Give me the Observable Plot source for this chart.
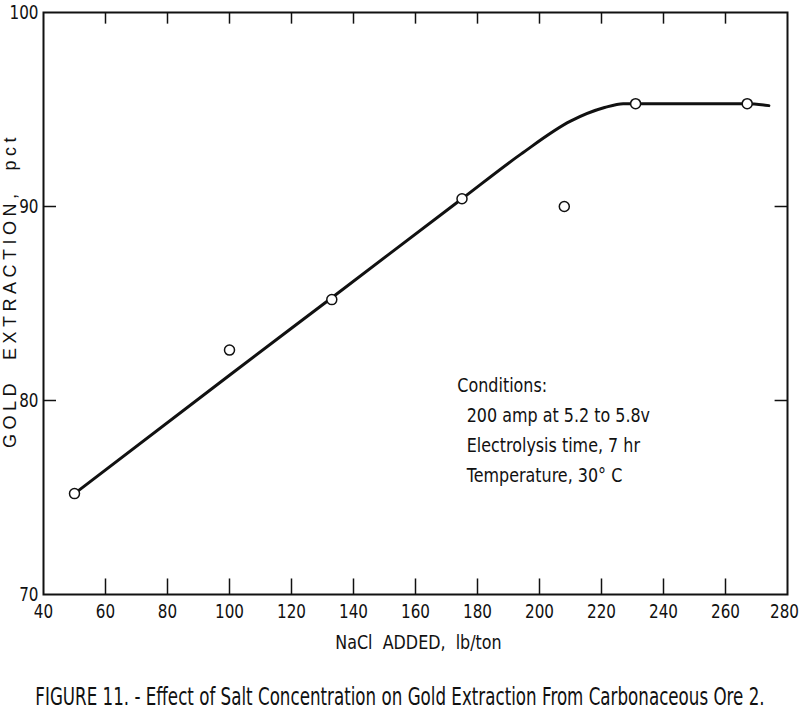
<!DOCTYPE html>
<html><head><meta charset="utf-8">
<script src="https://cdn.jsdelivr.net/npm/d3@7"></script>
<script src="https://cdn.jsdelivr.net/npm/@observablehq/plot@0.6"></script>
<style>
body{margin:0;background:#fff;}
#chart svg{display:block;}
#caption{display:block;}
</style></head><body>
<div id="chart"></div>
<svg id="caption" width="800" height="49" xmlns="http://www.w3.org/2000/svg"></svg>
<script>
const naclAdded = [50, 100, 133, 175, 208, 231, 267];
const goldExtraction = [75.2, 82.6, 85.2, 90.4, 90.0, 95.3, 95.3];
const curveX = [50, 100, 133, 175, 194, 210, 221, 227, 231, 267, 274];
const curveY = [75.2, 81.3, 85.3, 90.4, 92.7, 94.4, 95.1, 95.3, 95.3, 95.3, 95.2];
const xTicks = [40, 60, 80, 100, 120, 140, 160, 180, 200, 220, 240, 260, 280];
const yTicks = [70, 80, 90, 100];
const innerXTicks = [60, 80, 100, 120, 140, 160, 180, 200, 220, 240, 260];
const innerYTicks = [80, 90];
const conditionsTitle = "Conditions:";
const conditionsLines = ["200 amp at 5.2 to 5.8v", "Electrolysis time, 7 hr", "Temperature, 30° C"];
const xLabel = "NaCl  ADDED,  lb/ton";
const yLabel = "GOLD  EXTRACTION,  pct";
const captionText = "FIGURE 11. - Effect of Salt Concentration on Gold Extraction From Carbonaceous Ore 2.";

const points = naclAdded.map((x, i) => ({x, y: goldExtraction[i]}));
const curve = curveX.map((x, i) => ({x, y: curveY[i]}));
const font = "'DejaVu Sans',sans-serif";

const chart = Plot.plot({
  width: 800,
  height: 665,
  marginLeft: 43,
  marginRight: 13,
  marginTop: 12,
  marginBottom: 71,
  style: {fontFamily: font, color: "#111", background: "#fff"},
  x: {domain: [40, 280]},
  y: {domain: [70, 100]},
  marks: [
    Plot.frame({stroke: "#111", strokeWidth: 2}),
    Plot.axisX({ticks: xTicks, tickSize: 0, tickPadding: 9, fontSize: 20, label: null, tickFormat: d => String(d)}),
    Plot.axisY({ticks: yTicks, tickSize: 0, tickPadding: 5, fontSize: 20, label: null, tickFormat: d => String(d)}),
    Plot.ruleX(innerXTicks, {x: d => d, y1: 70, y2: 70.8, stroke: "#111", strokeWidth: 1.5}),
    Plot.ruleX(innerXTicks, {x: d => d, y1: 100, y2: 99.4, stroke: "#111", strokeWidth: 1.5}),
    Plot.ruleY(innerYTicks, {y: d => d, x1: 40, x2: 44.2, stroke: "#111", strokeWidth: 1.5}),
    Plot.ruleY(innerYTicks, {y: d => d, x1: 280, x2: 276, stroke: "#111", strokeWidth: 1.5}),
    Plot.line(curve, {x: "x", y: "y", curve: "monotone-x", stroke: "#111", strokeWidth: 3}),
    Plot.dot(points, {x: "x", y: "y", r: 5, fill: "#fff", stroke: "#111", strokeWidth: 1.5}),
    Plot.text([conditionsTitle], {x: 173.5, y: 80.75, text: d => d, textAnchor: "start", fontSize: 19, fill: "#111"}),
    Plot.text(conditionsLines, {x: 176.5, y: (d, i) => 79.2 - i * 1.55, text: d => d, textAnchor: "start", fontSize: 19, fill: "#111"}),
    Plot.text([xLabel], {frameAnchor: "bottom", dy: 48, dx: 3, lineAnchor: "middle", text: d => d, fontSize: 19, fill: "#111"}),
    Plot.text([yLabel], {frameAnchor: "left", rotate: -90, dx: -33, dy: -13, textAnchor: "middle", text: d => d, fontSize: 18, fill: "#111", fontFamily: "'Liberation Sans',Arial,sans-serif"})
  ]
});
document.getElementById("chart").appendChild(chart);

// narrow the lettering like the original stencil style
d3.select(chart).selectAll("text").each(function() {
  const t = this.textContent;
  if (t.startsWith("GOLD")) {
    d3.select(this).style("letter-spacing", "4.5px").style("white-space", "pre");
    return;
  }
  if (t.startsWith("NaCl")) d3.select(this).style("white-space", "pre");
  const k = /^\d+$/.test(t) ? 0.76 : 0.84;
  const shift = t === "280" ? " translate(-3,0)" : "";
  const tr = this.getAttribute("transform");
  if (tr != null) {
    this.setAttribute("transform", tr + shift + ` scale(${k},1)`);
  } else {
    const x = +this.getAttribute("x") || 0, y = +this.getAttribute("y") || 0;
    this.setAttribute("transform", `translate(${x},${y})${shift} scale(${k},1)`);
    this.setAttribute("x", 0); this.setAttribute("y", 0);
  }
});
const cap = d3.select("#caption").append("text")
  .attr("text-anchor", "middle")
  .attr("font-family", font).attr("font-size", 25).attr("fill", "#111")
  .text(captionText);
const natural = cap.node().getComputedTextLength() || 1090;
cap.attr("transform", `translate(400,40) scale(${(730 / natural).toFixed(4)},1)`);
</script>
</body></html>
